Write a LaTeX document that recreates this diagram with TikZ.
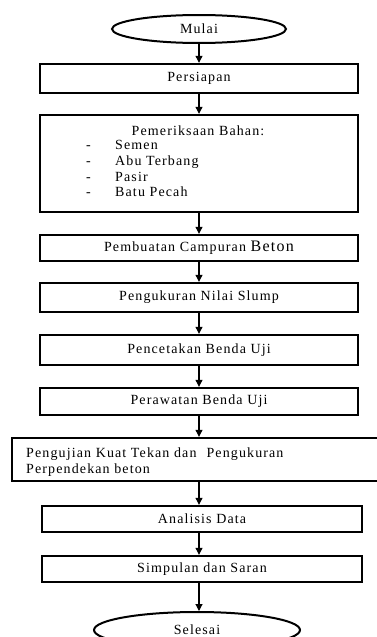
\documentclass[tikz,border=0pt]{standalone}
\usepackage{fontspec}
\setmainfont{Liberation Serif}[LetterSpace=8]
\usetikzlibrary{shapes.geometric,arrows.meta}
\tikzset{
  box/.style={draw, line width=2.4pt, rectangle, minimum width=318pt, inner sep=0pt,
    font=\fontsize{14}{16}\selectfont},
  term/.style={draw, line width=2pt, ellipse, inner sep=0pt,
    font=\fontsize{14}{16}\selectfont},
  txt/.style={inner sep=0pt, font=\fontsize{14}{16}\selectfont},
  arr/.style={line width=1.1pt, -{Triangle[width=7pt,length=7pt]}}
}
\begin{document}
\begin{tikzpicture}[x=1pt,y=-1pt]
\useasboundingbox (0,0) rectangle (376,637);
\node[term, minimum width=174pt, minimum height=28pt] (mulai) at (199,29) {Mulai};
\node[box, minimum height=29pt] (persiapan) at (199,78.5) {Persiapan};
\node[box, minimum height=97pt] (bahan) at (199,163.5) {};
\node[txt, anchor=base] (bahanh) at (198,135) {Pemeriksaan Bahan:};
\node[txt, anchor=base west] (d1) at (86,149) {-};
\node[txt, anchor=base west] (d2) at (86,165) {-};
\node[txt, anchor=base west] (d3) at (86,181) {-};
\node[txt, anchor=base west] (d4) at (86,196) {-};
\node[txt, anchor=base west] (i1) at (115,149) {Semen};
\node[txt, anchor=base west] (i2) at (115,165) {Abu Terbang};
\node[txt, anchor=base west] (i3) at (115,181) {Pasir};
\node[txt, anchor=base west] (i4) at (115,196) {Batu Pecah};
\node[box, minimum height=26pt] (campuran) at (199,248) {Pembuatan Campuran {\fontsize{16}{16}\selectfont Beton}};
\node[box, minimum height=29pt] (slump) at (199,297.5) {Pengukuran Nilai Slump};
\node[box, minimum height=30pt] (cetak) at (199,350) {Pencetakan Benda Uji};
\node[box, minimum height=27pt] (rawat) at (199,401.5) {Perawatan Benda Uji};
\node[box, minimum width=368pt, minimum height=43pt] (uji) at (196,459.5) {};
\node[txt, anchor=base west, align=left] (ujit) at (26,473) {Pengujian Kuat Tekan dan\hspace{10pt}Pengukuran\\Perpendekan beton};
\node[box, minimum width=320pt, minimum height=26pt] (analisis) at (202,519) {Analisis Data};
\node[box, minimum width=320pt, minimum height=26pt] (simpulan) at (202,569) {Simpulan dan Saran};
\node[term, minimum width=206pt, minimum height=36pt] (selesai) at (197,630) {Selesai};
\draw[arr] (mulai.south) -- (mulai.south |- persiapan.north);
\draw[arr] (persiapan.south) -- (bahan.north);
\draw[arr] (bahan.south) -- (campuran.north);
\draw[arr] (campuran.south) -- (slump.north);
\draw[arr] (slump.south) -- (cetak.north);
\draw[arr] (cetak.south) -- (rawat.north);
\draw[arr] (rawat.south) -- (rawat.south |- uji.north);
\draw[arr] (rawat.south |- uji.south) -- (rawat.south |- analisis.north);
\draw[arr] (rawat.south |- analisis.south) -- (rawat.south |- simpulan.north);
\draw[arr] (rawat.south |- simpulan.south) -- (rawat.south |- selesai.north);
\end{tikzpicture}
\end{document}
